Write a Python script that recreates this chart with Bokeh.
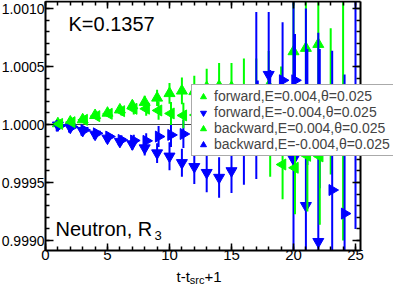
from bokeh.plotting import figure
from bokeh.models import (LinearAxis, SingleIntervalTicker, PrintfTickFormatter,
                          Label, Legend, LegendItem, ColumnDataSource, Range1d,
                          CustomLabelingPolicy)
from bokeh.transform import dodge
from bokeh.embed import file_html
from bokeh.resources import INLINE

# ---------------- data ----------------
# forward, E=+0.004 (green, up triangles)
t_fp = [1, 2, 3, 4, 5, 6, 7, 8, 9, 10, 11, 12, 13, 14, 15, 16, 17, 18, 19, 20, 21, 22, 23, 24]
y_fp = [1.000008, 1.000023, 1.000042, 1.000079, 1.000099, 1.000127, 1.000163, 1.000192,
        1.000229, 1.000268, 1.000290, 1.000285, 1.000320, 1.000330, 1.000320, 1.000220,
        1.000200, 1.000333, 1.000150, 1.000629, 1.000658, 1.000692, 1.000200, 1.000100]
e_fp = [0.000006, 0.000010, 0.000015, 0.000020, 0.000028, 0.000035, 0.000045, 0.000055,
        0.000070, 0.000090, 0.000115, 0.000135, 0.000160, 0.000200, 0.000210, 0.000350,
        0.000370, 0.000300, 0.000350, 0.000650, 0.000750, 0.000850, 0.000630, 0.001100]

# forward, E=-0.004 (blue, down triangles)
t_fm = [1, 2, 3, 4, 5, 6, 7, 8, 9, 10, 11, 12, 13, 14, 15, 16, 17, 18, 19, 20, 21, 22, 25]
y_fm = [0.999994, 0.999975, 0.999947, 0.999915, 0.999881, 0.999853, 0.999832, 0.999797,
        0.999754, 0.999726, 0.999670, 0.999636, 0.999585, 0.999543, 0.999600, 0.999880,
        1.000250, 1.000430, 1.000050, 0.999700, 0.999300, 0.998990, 1.001300]
e_fm = [0.000006, 0.000012, 0.000018, 0.000025, 0.000033, 0.000042, 0.000052, 0.000065,
        0.000085, 0.000120, 0.000120, 0.000150, 0.000170, 0.000175, 0.000190, 0.000400,
        0.000720, 0.000540, 0.000250, 0.001500, 0.001700, 0.001800, 0.002200]

# backward, E=+0.004 (green, left triangles)
t_bp = [1, 2, 3, 4, 5, 6, 7, 8, 9, 10, 11, 12, 13, 14, 15, 16, 17, 18, 19, 20, 21, 22]
y_bp = [1.000005, 1.000020, 1.000040, 1.000072, 1.000092, 1.000115, 1.000135, 1.000136,
        1.000121, 1.000095, 1.000078, 1.000082, 1.000090, 1.000120, 1.000100, 1.000050,
        1.000060, 0.999900, 0.999655, 0.999627, 0.999730, 0.999725]
e_bp = [0.000006, 0.000010, 0.000015, 0.000022, 0.000030, 0.000038, 0.000048, 0.000060,
        0.000080, 0.000100, 0.000110, 0.000130, 0.000150, 0.000180, 0.000200, 0.000220,
        0.000250, 0.000350, 0.000300, 0.000400, 0.000480, 0.000590]

# backward, E=-0.004 (blue, right triangles)
t_bm = [1, 2, 3, 4, 5, 6, 7, 8, 9, 10, 11, 12, 13, 14, 15, 16, 17, 18, 19, 20, 21, 22, 23, 24]
y_bm = [0.999989, 0.999980, 0.999952, 0.999924, 0.999896, 0.999867, 0.999862, 0.999859,
        0.999896, 0.999910, 0.999918, 0.999924, 0.999950, 0.999970, 1.000000, 1.000050,
        1.000100, 1.000150, 1.000381, 1.000381, 1.000150, 1.000050, 0.999435, 0.999232]
e_bm = [0.000006, 0.000010, 0.000015, 0.000022, 0.000030, 0.000040, 0.000050, 0.000065,
        0.000090, 0.000105, 0.000120, 0.000140, 0.000160, 0.000180, 0.000200, 0.000240,
        0.000280, 0.000320, 0.000500, 0.000400, 0.000500, 0.000600, 0.001200, 0.001200]

legend_labels = ["forward,E=0.004,\u03b8=0.025", "forward,E=-0.004,\u03b8=0.025",
                 "backward,E=0.004,\u03b8=0.025", "backward,E=-0.004,\u03b8=0.025"]
x_ticks_interval = 5
y_ticks_interval = 0.0005
ref_level = 1.0
# axis extents (the plotted box)
x_lo, x_hi = 0.0, 25.4
y_lo, y_hi = 0.9989138, 1.0010603

FONT = "Liberation Sans"
GREEN = "#00ff00"
BLUE = "#0000ff"

W, H = 393, 286
# the whole canvas is the frame; the four axes are drawn at fixed places inside it
p = figure(width=W, height=H, output_backend="svg", toolbar_location=None,
           x_range=Range1d(-3.629, 28.0645), y_range=Range1d(0.99860345, 1.00106897),
           min_border=0, min_border_left=0, min_border_right=0,
           min_border_top=0, min_border_bottom=0,
           background_fill_color="white", border_fill_color="white")
p.outline_line_color = None
p.xgrid.visible = False
p.ygrid.visible = False


def src(t, y, e):
    lo = [max(a - b, y_lo) for a, b in zip(y, e)]
    hi = [min(a + b, y_hi) for a, b in zip(y, e)]
    return ColumnDataSource(dict(t=t, y=y, lo=lo, hi=hi))


xt = SingleIntervalTicker(interval=x_ticks_interval, num_minor_ticks=5)
yt = SingleIntervalTicker(interval=y_ticks_interval, num_minor_ticks=5)
no_labels = CustomLabelingPolicy(code="return new Set()")


def style_axis(ax, horizontal, labels=True):
    ax.axis_line_width = 2
    ax.axis_line_color = "black"
    ax.major_tick_in = 8 if not horizontal else 7
    ax.major_tick_out = 0
    ax.minor_tick_in = 4
    ax.minor_tick_out = 0
    ax.major_tick_line_width = 1.5
    ax.minor_tick_line_width = 1.5
    ax.major_tick_line_color = "black"
    ax.minor_tick_line_color = "black"
    ax.major_label_text_font = FONT
    ax.major_label_text_font_size = "15px" if horizontal else "14px"
    ax.major_label_text_color = "black"
    ax.major_label_standoff = 0 if horizontal else 1
    ax.bounds = (x_lo, x_hi) if horizontal else (y_lo, y_hi)
    if not labels:
        ax.major_label_text_font_size = "1px"
        ax.major_label_standoff = 0
        ax.major_label_policy = no_labels


xa = p.xaxis[0]
ya = p.yaxis[0]
xa.ticker = xt
ya.ticker = yt
ya.formatter = PrintfTickFormatter(format="%.4f")
xa.fixed_location = y_lo
ya.fixed_location = x_lo
style_axis(xa, True)
style_axis(ya, False)

top = LinearAxis(ticker=xt, fixed_location=y_hi)
right = LinearAxis(ticker=yt, fixed_location=x_hi)
style_axis(top, True, labels=False)
style_axis(right, False, labels=False)
p.add_layout(top, "above")
p.add_layout(right, "right")

# reference line at 1
p.segment(x0=[x_lo], y0=[ref_level], x1=[x_hi], y1=[ref_level],
          line_color="#444444", line_width=1)

s_fp = src(t_fp, y_fp, e_fp)
s_fm = src(t_fm, y_fm, e_fm)
s_bp = src(t_bp, y_bp, e_bp)
s_bm = src(t_bm, y_bm, e_bm)

xb = dodge("t", 0.12, range=p.x_range)

p.segment(x0="t", y0="lo", x1="t", y1="hi", source=s_fp, line_color=GREEN, line_width=2)
r_fp = p.scatter(x="t", y="y", source=s_fp, marker="triangle", size=11,
                 fill_color=GREEN, line_color=GREEN)
p.segment(x0="t", y0="lo", x1="t", y1="hi", source=s_fm, line_color=BLUE, line_width=2)
r_fm = p.scatter(x="t", y="y", source=s_fm, marker="inverted_triangle", size=11,
                 fill_color=BLUE, line_color=BLUE)
p.segment(x0=xb, y0="lo", x1=xb, y1="hi", source=s_bm, line_color=BLUE, line_width=2)
r_bm = p.scatter(x=xb, y="y", source=s_bm, marker="triangle", angle=-1.5708, size=11,
                 fill_color=BLUE, line_color=BLUE)
p.segment(x0=xb, y0="lo", x1=xb, y1="hi", source=s_bp, line_color=GREEN, line_width=2)
r_bp = p.scatter(x=xb, y="y", source=s_bp, marker="triangle", angle=1.5708, size=11,
                 fill_color=GREEN, line_color=GREEN)

legend = Legend(items=[LegendItem(label=legend_labels[0], renderers=[r_fp]),
                       LegendItem(label=legend_labels[1], renderers=[r_fm]),
                       LegendItem(label=legend_labels[2], renderers=[r_bp]),
                       LegendItem(label=legend_labels[3], renderers=[r_bm])],
                location=(191, 130), background_fill_color="white", background_fill_alpha=1,
                border_line_color="#555555", border_line_width=1,
                label_text_font=FONT, label_text_font_size="14px",
                glyph_width=16, glyph_height=15, label_height=15,
                label_standoff=3, spacing=0, padding=3, margin=0)
p.add_layout(legend, "center")


def lab(px, py, text, size):
    # px, py: page position of the text's left end and baseline
    p.add_layout(Label(x=px - 8, y=H + 8 - py, x_units="screen", y_units="screen",
                       text=text, text_font=FONT, text_font_size=size,
                       text_color="black", text_baseline="alphabetic"))


lab(76, 31, "K=0.1357", "20px")
lab(63, 236, "Neutron, R", "20px")
lab(162, 243, "3", "13px")
lab(184, 284, "t-t", "15px")
lab(197.3, 287, "src", "11px")
lab(212, 284, "+1", "15px")

open("out.html", "w").write(file_html(p, INLINE))
